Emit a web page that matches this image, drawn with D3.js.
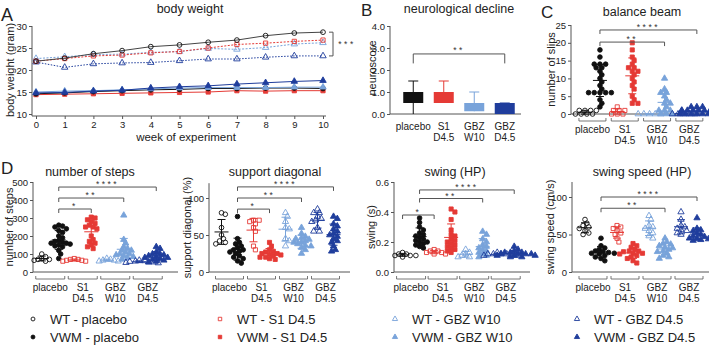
<!DOCTYPE html>
<html>
<head>
<meta charset="utf-8">
<script src="https://cdn.jsdelivr.net/npm/d3@7"></script>
<style>
  body { margin: 0; background: #fff; }
  svg { font-family: "Liberation Sans", Arial, Helvetica, sans-serif; }
</style>
</head>
<body>
<svg id="fig" width="709" height="345"></svg>
<script>
// ---- data ----
const weeks = [0, 1, 2, 3, 4, 5, 6, 7, 8, 9, 10];
const bwWtPlacebo  = [22.0, 22.7, 23.7, 24.4, 25.3, 25.7, 26.3, 26.8, 27.8, 28.4, 28.6];
const bwWtS1       = [22.0, 22.6, 23.2, 23.4, 23.9, 24.2, 25.0, 25.8, 26.1, 26.5, 26.8];
const bwWtW10      = [22.6, 23.0, 23.5, 23.6, 24.0, 24.2, 24.9, 24.7, 25.1, 25.9, 26.2];
const bwWtD45      = [21.8, 20.6, 21.4, 21.6, 21.7, 22.1, 22.5, 22.5, 22.9, 23.2, 23.2];
const bwVwmPlacebo = [14.6, 14.8, 15.1, 15.3, 15.5, 15.6, 15.8, 15.8, 15.9, 15.9, 15.8];
const bwVwmS1      = [14.4, 14.5, 14.6, 14.7, 14.8, 14.9, 15.0, 15.3, 15.2, 15.3, 15.3];
const bwVwmW10     = [15.0, 15.2, 15.3, 15.5, 15.7, 15.9, 16.0, 16.0, 16.0, 16.1, 16.1];
const bwVwmD45     = [14.8, 14.9, 15.2, 15.4, 15.9, 16.2, 16.4, 16.8, 17.1, 17.4, 17.6];

const categories = [["placebo"], ["S1", "D4.5"], ["GBZ", "W10"], ["GBZ", "D4.5"]];
const groupNames = ["WT - placebo", "VWM - placebo", "WT - S1 D4.5", "VWM - S1 D4.5",
                    "WT - GBZ W10", "VWM - GBZ W10", "WT - GBZ D4.5", "VWM - GBZ D4.5"];

// neuroscore box: low/high of box, whisker ends
const neuroBoxLow   = [0.5, 0.5, 0.125, 0];
const neuroBoxHigh  = [1.0, 1.0, 0.5, 0.5];
const neuroWhiskLow = [0, 0.5, 0.125, 0];
const neuroWhiskHigh= [1.5, 1.5, 1.0, 0.5];

// group order: WT placebo, VWM placebo, WT S1, VWM S1, WT W10, VWM W10, WT D4.5, VWM D4.5
const slips = [
  [0, 0, 0, 0, 1, 1, 1, 1],
  [18, 16, 14, 14, 14, 13, 13, 12, 11, 10, 9, 8, 7, 6, 6, 6, 6, 6, 4, 3, 2],
  [0, 0, 1, 1, 2, 1, 0],
  [20, 18, 16, 15, 14, 13, 13, 12, 12, 11, 10, 9, 8, 7, 5, 4, 3, 3],
  [0, 0, 0, 0, 0],
  [10, 7, 6, 6, 5, 4, 3, 3, 2, 1, 1, 1, 0, 0, 0],
  [0, 0, 0, 0, 1, 0],
  [0, 0, 0, 0, 0, 0, 1, 1, 1, 1, 1, 1, 2, 2, 2, 1, 0]
];
const steps = [
  [100, 85, 75, 70, 70, 65, 60],
  [260, 255, 250, 240, 230, 220, 200, 190, 175, 170, 165, 160, 160, 155, 150, 145, 140, 120, 100, 75],
  [75, 70, 70, 65, 65, 60, 60],
  [305, 300, 290, 280, 270, 260, 250, 250, 240, 200, 180, 170, 160, 150, 140, 130],
  [75, 70, 65, 65, 60, 60],
  [315, 180, 160, 140, 130, 120, 120, 110, 100, 100, 95, 90, 85, 80, 70],
  [65, 62, 60, 58, 55, 55, 52, 50],
  [140, 130, 110, 100, 100, 95, 90, 85, 80, 80, 75, 70, 65, 60, 55]
];
const supportDiag = [
  [80, 78, 60, 50, 45, 42, 40, 38],
  [75, 45, 40, 38, 35, 33, 30, 30, 28, 27, 25, 22, 20, 18, 15, 12],
  [70, 70, 68, 65, 60, 55, 35, 30],
  [40, 35, 30, 28, 27, 25, 25, 24, 23, 22, 20, 20, 18, 17],
  [80, 75, 68, 60, 58, 45, 42, 35],
  [60, 52, 48, 46, 45, 44, 42, 40, 40, 38, 36, 35, 33, 30, 25],
  [85, 80, 80, 75, 72, 70, 68, 60, 55, 55],
  [75, 72, 65, 62, 58, 55, 52, 50, 48, 45, 42, 40, 35, 30, 28]
];
const swing = [
  [0.13, 0.12, 0.12, 0.11, 0.11, 0.10, 0.11],
  [0.36, 0.33, 0.30, 0.28, 0.26, 0.25, 0.24, 0.23, 0.22, 0.21, 0.20, 0.20, 0.19, 0.18, 0.17, 0.16],
  [0.15, 0.14, 0.14, 0.13, 0.13, 0.12, 0.12],
  [0.42, 0.40, 0.35, 0.28, 0.25, 0.24, 0.22, 0.21, 0.20, 0.19, 0.18, 0.17, 0.16, 0.15, 0.14, 0.13],
  [0.15, 0.13, 0.12, 0.11, 0.10, 0.10],
  [0.27, 0.25, 0.22, 0.20, 0.18, 0.17, 0.16, 0.15, 0.14, 0.13, 0.12, 0.11, 0.10],
  [0.13, 0.12, 0.12, 0.12, 0.11, 0.11, 0.11, 0.12],
  [0.17, 0.15, 0.14, 0.13, 0.13, 0.12, 0.12, 0.12, 0.11, 0.11, 0.11, 0.10, 0.10, 0.12, 0.13]
];
const swingSpeed = [
  [70, 65, 62, 60, 58, 55, 52, 50],
  [45, 35, 32, 30, 28, 27, 26, 25, 25, 24, 22, 20, 18, 15],
  [62, 60, 58, 55, 52, 50, 45, 40],
  [38, 35, 33, 30, 28, 28, 27, 25, 25, 24, 22, 20, 18, 15, 12],
  [75, 70, 62, 60, 58, 55, 52, 48, 45],
  [45, 40, 38, 37, 35, 33, 32, 30, 28, 27, 25, 22, 20, 18],
  [80, 70, 62, 60, 58, 56, 55, 52, 50],
  [72, 58, 56, 55, 52, 50, 48, 47, 45, 45, 44, 43, 42]
];

// ---- styles ----
const RED = "#e53a35", LBLUE = "#78a3da", DBLUE = "#1f3d9c", BLACK = "#111";
const groupColor  = [BLACK, BLACK, RED, RED, LBLUE, LBLUE, DBLUE, DBLUE];
const groupShape  = ["circle", "circle", "square", "square", "triangle", "triangle", "triangle", "triangle"];
const groupFilled = [false, true, false, true, false, true, false, true];
const catColor = [BLACK, RED, LBLUE, DBLUE];
const AX = "#555", TXT = "#222";
const TICK_FS = 9.5, CAT_FS = 10, TITLE_FS = 12.5, YLAB_FS = 11;

const svg = d3.select("#fig");

function marker(g, i, x, y, size) {
  const sym = { circle: d3.symbolCircle, square: d3.symbolSquare, triangle: d3.symbolTriangle }[groupShape[i]];
  g.append("path")
    .attr("d", d3.symbol(sym, size)())
    .attr("transform", `translate(${x},${y})`)
    .attr("fill", groupFilled[i] ? groupColor[i] : "none")
    .attr("stroke", groupColor[i])
    .attr("stroke-width", 0.9);
}

function styleAxis(g) {
  g.attr("font-size", TICK_FS).attr("font-family", null);
  g.select(".domain").remove();
  g.selectAll("line").attr("stroke", AX);
  g.selectAll("text").attr("fill", TXT);
}

function text(x, y, s, size, anchor = "middle") {
  return svg.append("text").attr("x", x).attr("y", y).attr("font-size", size)
    .attr("text-anchor", anchor).attr("fill", TXT).text(s);
}
function yLabel(x, y, s) {
  svg.append("text").attr("transform", `translate(${x},${y}) rotate(-90)`)
    .attr("text-anchor", "middle").attr("dy", "0.35em").attr("font-size", YLAB_FS)
    .attr("fill", TXT).text(s);
}
function line(x1, y1, x2, y2, color = AX) {
  svg.append("line").attr("x1", x1).attr("y1", y1).attr("x2", x2).attr("y2", y2)
    .attr("stroke", color).attr("stroke-width", 1);
}
function stars(x, yb, s) {
  svg.append("text").attr("x", x).attr("y", yb + 2).attr("text-anchor", "middle")
    .attr("font-size", 8.5).attr("letter-spacing", 2.5).attr("fill", "#333").text(s);
}
function sigBracket(x1, x2, yb, s) {
  svg.append("path").attr("d", `M${x1},${yb + 4}V${yb}H${x2}V${yb + 4}`)
    .attr("fill", "none").attr("stroke", AX).attr("stroke-width", 1);
  stars((x1 + x2) / 2, yb - 2, s);
}

// panel letters
text(1, 21, "A", 18, "start");
text(361, 16, "B", 17, "start");
text(541, 18, "C", 17, "start");
text(1, 174, "D", 17, "start");

// ---- Panel A: body weight ----
{
  const x = d3.scaleLinear().domain([0, 10]).range([36, 323]);
  const y = d3.scaleLinear().domain([10, 30]).range([114, 26]);
  const gy = svg.append("g").attr("transform", "translate(32,0)")
    .call(d3.axisLeft(y).tickValues([10, 15, 20, 25, 30]).tickSize(3).tickPadding(2));
  styleAxis(gy);
  line(32, 26, 32, 116);
  const gx = svg.append("g").attr("transform", "translate(0,116)")
    .call(d3.axisBottom(x).tickValues(weeks).tickSize(3).tickPadding(2));
  styleAxis(gx);
  line(32, 116, 326, 116);
  text(190, 13, "body weight", TITLE_FS);
  text(186, 141, "week of experiment", 11.5);
  yLabel(10, 70, "body weight (gram)");

  const series = [
    { v: bwVwmS1, i: 3, dash: null },
    { v: bwVwmPlacebo, i: 1, dash: null },
    { v: bwVwmW10, i: 5, dash: null },
    { v: bwVwmD45, i: 7, dash: null },
    { v: bwWtD45, i: 6, dash: "1.5,1.5" },
    { v: bwWtW10, i: 4, dash: "2,1.5" },
    { v: bwWtS1, i: 2, dash: "2,1.5" },
    { v: bwWtPlacebo, i: 0, dash: null }
  ];
  const ln = d3.line().x((d, k) => x(weeks[k])).y(d => y(d));
  series.forEach(s => {
    const col = s.i === 0 ? "#444" : groupColor[s.i];
    svg.append("path").attr("d", ln(s.v)).attr("fill", "none")
      .attr("stroke", col).attr("stroke-width", 1)
      .attr("stroke-dasharray", s.dash);
    const g = svg.append("g");
    s.v.forEach((d, k) => marker(g, s.i, x(weeks[k]), y(d), 18));
  });
  // significance
  svg.append("path").attr("d", `M329,${y(28.6)}H333V${y(23.2)}H329`)
    .attr("fill", "none").attr("stroke", AX);
  stars(347, 45, "***");
}

// ---- Panel B: neurological decline ----
{
  const x = d3.scaleBand().domain(d3.range(4)).range([398, 520]);
  const y = d3.scaleLinear().domain([0, 4]).range([114, 26]);
  const gy = svg.append("g").attr("transform", "translate(390,0)")
    .call(d3.axisLeft(y).tickValues([0, 1, 2, 3, 4]).tickSize(3).tickPadding(2));
  styleAxis(gy);
  line(390, 26, 390, 114);
  line(390, 114, 521, 114);
  text(459, 13, "neurological decline", TITLE_FS);
  yLabel(372, 68, "neuroscore");
  const bw = 20;
  d3.range(4).forEach(k => {
    const cx = x(k) + x.bandwidth() / 2;
    const c = catColor[k];
    line(cx, y(neuroWhiskLow[k]), cx, y(neuroWhiskHigh[k]), c);
    line(cx - 5, y(neuroWhiskHigh[k]), cx + 5, y(neuroWhiskHigh[k]), c);
    svg.append("rect").attr("x", cx - bw / 2).attr("width", bw)
      .attr("y", y(neuroBoxHigh[k])).attr("height", y(neuroBoxLow[k]) - y(neuroBoxHigh[k]))
      .attr("fill", c);
    categories[k].forEach((s, j) => text(cx, 130 + j * 11, s, CAT_FS));
  });
  const c0 = x(0) + x.bandwidth() / 2, c3 = x(3) + x.bandwidth() / 2;
  svg.append("path").attr("d", `M${c0},${y(2.3)}V${y(2.73)}H${c3}V${y(2.3)}`)
    .attr("fill", "none").attr("stroke", AX);
  stars((c0 + c3) / 2, y(2.73) - 3, "**");
}

// ---- dot plots (C and D) ----
function swarm(vals, y, cx, d, step) {
  const pts = vals.map(v => ({ v, py: y(v) })).sort((a, b) => b.v - a.v);
  const placed = [];
  pts.forEach(p => {
    for (let k = 0; k < 60; k++) {
      const off = k === 0 ? 0 : (k % 2 ? 1 : -1) * Math.ceil(k / 2) * step;
      const px = cx + off;
      if (placed.every(q => (q.px - px) ** 2 + (q.py - p.py) ** 2 >= d * d)) {
        p.px = px; placed.push(p); break;
      }
    }
  });
  return placed;
}

function dotPanel(cfg) {
  const y = d3.scaleLinear().domain(cfg.yDomain).range([cfg.axisY, cfg.yTopPx]);
  const band = d3.scaleBand().domain(d3.range(4)).range(cfg.band);
  const gx = k => band(Math.floor(k / 2)) + band.bandwidth() / 2 + (k % 2 ? cfg.sub : -cfg.sub);
  const gy = svg.append("g").attr("transform", `translate(${cfg.axisX},0)`)
    .call(d3.axisLeft(y).tickValues(cfg.ticks).tickFormat(cfg.fmt).tickSize(3).tickPadding(2));
  styleAxis(gy);
  line(cfg.axisX, cfg.yTopPx, cfg.axisX, cfg.axisY);
  line(cfg.axisX, cfg.axisY, cfg.xEnd, cfg.axisY);
  text(cfg.titleX, cfg.titleY, cfg.title, TITLE_FS);
  yLabel(cfg.ylabX, (cfg.yTopPx + cfg.axisY) / 2, cfg.ylabel);

  // category brackets and labels
  d3.range(4).forEach(c => {
    const cx = band(c) + band.bandwidth() / 2, h = cfg.sub + 6, yb = cfg.axisY + 7;
    svg.append("path").attr("d", `M${cx - h},${yb - 3}V${yb}H${cx + h}V${yb - 3}`)
      .attr("fill", "none").attr("stroke", AX).attr("stroke-width", 0.8);
    categories[c].forEach((s, j) => text(cx, cfg.axisY + 19 + j * 11, s, CAT_FS));
  });

  cfg.data.forEach((vals, k) => {
    const g = svg.append("g");
    const cx = gx(k);
    const m = d3.mean(vals), sd = d3.deviation(vals) || 0;
    const col = groupColor[k];
    swarm(vals, y, cx, 3.9, 1.9).forEach(p => marker(g, k, p.px, p.py, 17));
    line(cx, y(m - sd), cx, y(m + sd), col);
    line(cx - 4, y(m - sd), cx + 4, y(m - sd), col);
    line(cx - 4, y(m + sd), cx + 4, y(m + sd), col);
    line(cx - 7, y(m), cx + 7, y(m), col);
  });

  cfg.sigs.forEach(s => sigBracket(gx(s[0]), gx(s[1]), y(s[3]), s[2]));
}

const fmtInt = d3.format("d"), fmt1 = d3.format(".1f");
dotPanel({ data: slips, title: "balance beam", ylabel: "number of slips",
  yDomain: [0, 25], ticks: [0, 5, 10, 15, 20, 25], fmt: fmtInt,
  axisX: 571, axisY: 114, yTopPx: 25, xEnd: 709, band: [576.3, 705.5], sub: 7.5,
  titleX: 642, titleY: 16, ylabX: 551,
  sigs: [[1, 5, "**", 20.2], [1, 7, "****", 23.6]] });
dotPanel({ data: steps, title: "number of steps", ylabel: "number of steps",
  yDomain: [0, 500], ticks: [0, 100, 200, 300, 400, 500], fmt: fmtInt,
  axisX: 33, axisY: 272, yTopPx: 182, xEnd: 178, band: [34, 164], sub: 8.5,
  titleX: 90, titleY: 176, ylabX: 9,
  sigs: [[1, 3, "*", 350], [1, 5, "**", 411], [1, 7, "****", 472]] });
dotPanel({ data: supportDiag, title: "support diagonal", ylabel: "support diagonal (%)",
  yDomain: [0, 120], ticks: [0, 50, 100], fmt: fmtInt,
  axisX: 209, axisY: 272, yTopPx: 183.2, xEnd: 350, band: [213.5, 341.5], sub: 8,
  titleX: 275, titleY: 176, ylabX: 187,
  sigs: [[1, 3, "*", 85], [1, 5, "**", 100], [1, 7, "****", 115]] });
dotPanel({ data: swing, title: "swing (HP)", ylabel: "swing (s)",
  yDomain: [0, 0.6], ticks: [0, 0.2, 0.4, 0.6], fmt: fmt1,
  axisX: 394, axisY: 272, yTopPx: 182, xEnd: 530, band: [395.3, 521.5], sub: 8.5,
  titleX: 455, titleY: 176, ylabX: 371,
  sigs: [[0, 2, "*", 0.38], [1, 5, "**", 0.49], [1, 7, "****", 0.547]] });
dotPanel({ data: swingSpeed, title: "swing speed (HP)", ylabel: "swing speed (cm/s)",
  yDomain: [0, 120], ticks: [0, 50, 100], fmt: fmtInt,
  axisX: 572, axisY: 272, yTopPx: 182, xEnd: 709, band: [577, 705], sub: 8,
  titleX: 642, titleY: 176, ylabX: 550,
  sigs: [[1, 5, "**", 85], [1, 7, "****", 100]] });

// ---- legend ----
{
  const colX = [33, 220, 395, 577];
  const rowY = [319, 337];
  groupNames.forEach((name, k) => {
    const cx = colX[Math.floor(k / 2)], cy = rowY[k % 2];
    marker(svg.append("g"), k, cx, cy, 12);
    svg.append("text").attr("x", cx + 17).attr("y", cy).attr("dy", "0.35em")
      .attr("font-size", 13).attr("fill", TXT).text(name);
  });
}
</script>
</body>
</html>
